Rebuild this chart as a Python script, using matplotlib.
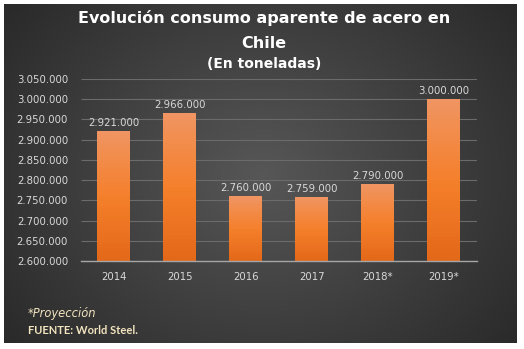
import numpy as np
import matplotlib
matplotlib.use("Agg")
import matplotlib.pyplot as plt
from matplotlib.patches import Rectangle

# datos del grafico
years = ["2014", "2015", "2016", "2017", "2018*", "2019*"]
consumo = [2921000, 2966000, 2760000, 2759000, 2790000, 3000000]
ticks_y = [2600000, 2650000, 2700000, 2750000, 2800000, 2850000,
           2900000, 2950000, 3000000, 3050000]


def fmt(v):
    # separador de miles con punto
    return f"{v:,.0f}".replace(",", ".")


W, H = 524, 349
fig = plt.figure(figsize=(W / 100, H / 100), dpi=100)
fig.patch.set_facecolor("white")

# fondo oscuro con degradado radial
bg = fig.add_axes([0, 0, 1, 1])
bg.set_xlim(0, W)
bg.set_ylim(H, 0)
bg.axis("off")
yy, xx = np.mgrid[0:H, 0:W]
r = np.sqrt(((xx - W * 0.5) / (W * 0.6)) ** 2 + ((yy - H * 0.5) / (H * 0.75)) ** 2)
shade = np.clip(0.34 - 0.17 * r, 0.16, 0.34)
img = np.dstack([shade, shade, shade])
im = bg.imshow(img, extent=[0, W, H, 0], interpolation="bilinear")
panel = Rectangle((4, 4), 513, 339, transform=bg.transData, facecolor="none", edgecolor="none")
bg.add_patch(panel)
im.set_clip_path(panel)

# titulo
bg.text(W / 2 + 2, 18, "Evolución consumo aparente de acero en", ha="center", va="center",
        color="white", fontsize=11.5, fontweight="bold")
bg.text(W / 2 + 2, 43, "Chile", ha="center", va="center",
        color="white", fontsize=11.5, fontweight="bold")
bg.text(W / 2 + 2, 64, "(En toneladas)", ha="center", va="center",
        color="white", fontsize=10, fontweight="bold")

# notas
bg.text(28, 313, "*Proyección", ha="left", va="center", color="#f2e4bf",
        fontsize=8.3, style="italic")
bg.text(28, 331, "FUENTE: World Steel.", ha="left", va="center", color="#f2e4bf",
        fontsize=8, fontweight="bold", family="Lato")

ax = fig.add_axes([80.5 / W, 88 / H, 396.5 / W, 182 / H])
ax.patch.set_alpha(0)
x = np.arange(len(years))
ax.set_xlim(-0.5, len(years) - 0.5)
ax.set_ylim(ticks_y[0], ticks_y[-1])

# lineas de division horizontales, por debajo de las barras
ax.hlines(ticks_y[1:], -0.5, len(years) - 0.5, colors="#6b6b6b", linewidth=0.8, zorder=1)

# barras con degradado (claro arriba, oscuro abajo) en franjas sin borde
top_c = np.array([0.94, 0.58, 0.38])
mid_c = np.array([0.96, 0.50, 0.17])
bot_c = np.array([0.89, 0.41, 0.10])
n = 40
for xi, v in zip(x, consumo):
    h = (v - ticks_y[0]) / n
    for k in range(n):
        t = k / (n - 1)  # 0 abajo, 1 arriba
        c = bot_c + (mid_c - bot_c) * (t / 0.5) if t < 0.5 else mid_c + (top_c - mid_c) * ((t - 0.5) / 0.5)
        ax.bar(xi, h, bottom=ticks_y[0] + k * h, width=0.5, color=c,
               linewidth=0, antialiased=False, zorder=3)

for xi, v in zip(x, consumo):
    ax.text(xi, v + 7000, fmt(v), ha="center", va="bottom", color="#d9d9d9", fontsize=7.3, zorder=5)

ax.set_yticks(ticks_y)
ax.set_yticklabels([fmt(t) for t in ticks_y])
ax.set_xticks(x)
ax.set_xticklabels(years)
ax.tick_params(axis="both", length=0, colors="#d9d9d9", labelsize=7.3)
ax.tick_params(axis="y", pad=9)
ax.tick_params(axis="x", pad=8)
for s in ["top", "right", "left"]:
    ax.spines[s].set_visible(False)
ax.spines["bottom"].set_color("#a6a6a6")
ax.spines["bottom"].set_linewidth(1.0)
ax.spines["bottom"].set_zorder(6)

fig.savefig("out.png", dpi=100, facecolor="white")
